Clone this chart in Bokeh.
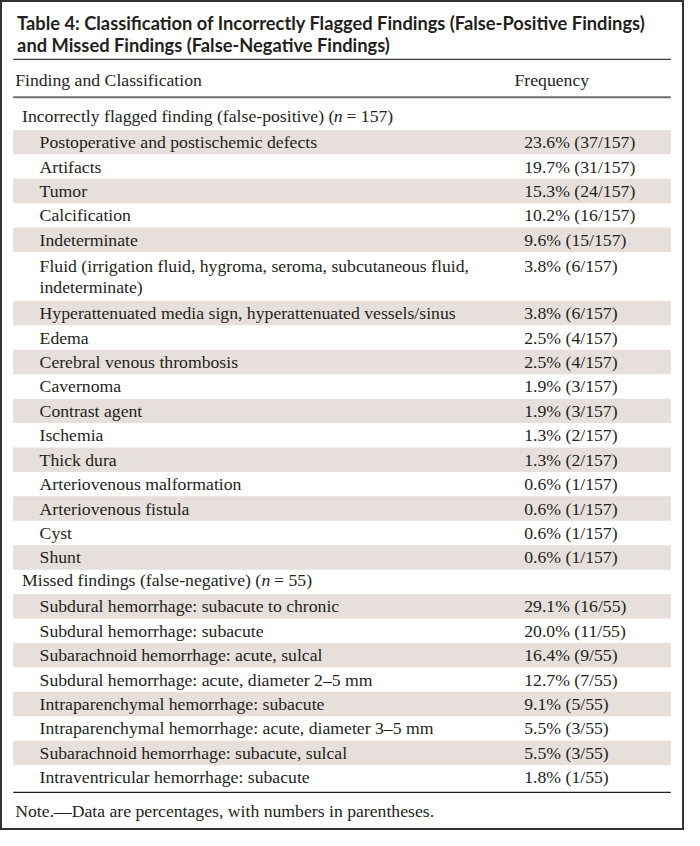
from bokeh.plotting import figure
from bokeh.models import Range1d, ColumnDataSource
from bokeh.embed import file_html
from bokeh.resources import INLINE

# ---------------- data ----------------
title_lines = [
    "Table 4: Classification of Incorrectly Flagged Findings (False-Positive Findings)",
    "and Missed Findings (False-Negative Findings)",
]
col_headers = ["Finding and Classification", "Frequency"]

fp_group = "Incorrectly flagged finding (false-positive)"
fp_total = 157
fp_labels = [
    "Postoperative and postischemic defects",
    "Artifacts",
    "Tumor",
    "Calcification",
    "Indeterminate",
    "Fluid (irrigation fluid, hygroma, seroma, subcutaneous fluid,\nindeterminate)",
    "Hyperattenuated media sign, hyperattenuated vessels/sinus",
    "Edema",
    "Cerebral venous thrombosis",
    "Cavernoma",
    "Contrast agent",
    "Ischemia",
    "Thick dura",
    "Arteriovenous malformation",
    "Arteriovenous fistula",
    "Cyst",
    "Shunt",
]
fp_pct = [23.6, 19.7, 15.3, 10.2, 9.6, 3.8, 3.8, 2.5, 2.5, 1.9, 1.9, 1.3, 1.3, 0.6, 0.6, 0.6, 0.6]
fp_counts = [37, 31, 24, 16, 15, 6, 6, 4, 4, 3, 3, 2, 2, 1, 1, 1, 1]

fn_group = "Missed findings (false-negative)"
fn_total = 55
fn_labels = [
    "Subdural hemorrhage: subacute to chronic",
    "Subdural hemorrhage: subacute",
    "Subarachnoid hemorrhage: acute, sulcal",
    "Subdural hemorrhage: acute, diameter 2\u20135 mm",
    "Intraparenchymal hemorrhage: subacute",
    "Intraparenchymal hemorrhage: acute, diameter 3\u20135 mm",
    "Subarachnoid hemorrhage: subacute, sulcal",
    "Intraventricular hemorrhage: subacute",
]
fn_pct = [29.1, 20.0, 16.4, 12.7, 9.1, 5.5, 5.5, 1.8]
fn_counts = [16, 11, 9, 7, 5, 3, 3, 1]

note = "Note.\u2014Data are percentages, with numbers in parentheses."

# ---------------- layout (in reference-image units, 700 x 846) ----------------
W, H = 684, 830
REF_W, REF_H = 700, 846
SERIF = "Liberation Serif"
SANS_BOLD = "Lato"
FS = "17.7px"
TITLE_FS = "18.3px"
TXT = "#231f20"
SHADE = "#e6dfdb"
TL, TR = 13, 686
ROW_H = 24.9
LINE_H = 22
X_HEAD = 15
X_GROUP = 22
X_ITEM = 40
X_FREQ = 536

p = figure(width=W, height=H, x_range=Range1d(0, REF_W), y_range=Range1d(REF_H, 0),
           output_backend="svg", toolbar_location=None, min_border=0)
p.axis.visible = False
p.grid.visible = False
p.outline_line_color = "#333333"
p.outline_line_width = 3
p.background_fill_color = "white"
p.border_fill_color = "white"

texts = dict(x=[], y=[], t=[], font=[], style=[], size=[])


def add_text(x, y, t, font=SERIF, style="normal", size=FS):
    texts["x"].append(x)
    texts["y"].append(y)
    texts["t"].append(t)
    texts["font"].append(font)
    texts["style"].append(style)
    texts["size"].append(size)


# title
add_text(17, 23, title_lines[0], SANS_BOLD, "bold", TITLE_FS)
add_text(17, 45, title_lines[1], SANS_BOLD, "bold", TITLE_FS)
# header
add_text(X_HEAD, 81, col_headers[0])
add_text(526, 81, col_headers[1])

bands = dict(top=[], bottom=[])
y = 107.0


def group(label, total, x_n, x_rest):
    global y
    cy = y + ROW_H / 2 - 1.5
    add_text(X_GROUP, cy, label + " (")
    add_text(x_n, cy, "n", style="italic")
    add_text(x_rest, cy, "= %d)" % total)
    y += ROW_H


def items(labels, pct, counts, total):
    global y
    for i, (lab, pc, n) in enumerate(zip(labels, pct, counts)):
        lines = lab.split("\n")
        h = ROW_H * len(lines)
        if i % 2 == 0:
            bands["top"].append(y)
            bands["bottom"].append(y + h)
        c = y + h / 2
        first = c - LINE_H * (len(lines) - 1) / 2
        for k, ln in enumerate(lines):
            add_text(X_ITEM, first + k * LINE_H, ln)
        add_text(X_FREQ, first, "%.1f%% (%d/%d)" % (pc, n, total))
        y += h


group(fp_group, fp_total, 341, 354)
items(fp_labels, fp_pct, fp_counts, fp_total)
group(fn_group, fn_total, 267, 280)
items(fn_labels, fn_pct, fn_counts, fn_total)
end_y = y

add_text(X_HEAD, 826, note)

p.quad(left=TL, right=TR, top="top", bottom="bottom", source=ColumnDataSource(bands),
       fill_color=SHADE, line_color=None)

# rules
p.segment(x0=[TL], x1=[TR], y0=[60], y1=[60], line_color="#3a3a3a", line_width=1.3)
p.segment(x0=[TL], x1=[TR], y0=[98.5], y1=[98.5], line_color="#6e6e6e", line_width=2)
p.segment(x0=[TL], x1=[TR], y0=[end_y + 3], y1=[end_y + 3], line_color="#222222", line_width=1.3)

for style in ["normal", "italic", "bold"]:
    idx = [i for i, s in enumerate(texts["style"]) if s == style]
    if not idx:
        continue
    sub = ColumnDataSource({k: [v[i] for i in idx] for k, v in texts.items()})
    p.text(x="x", y="y", text="t", source=sub, text_font="font", text_font_size="size",
           text_font_style=style, text_color=TXT, text_baseline="middle", text_align="left")

open("out.html", "w").write(file_html(p, INLINE))
